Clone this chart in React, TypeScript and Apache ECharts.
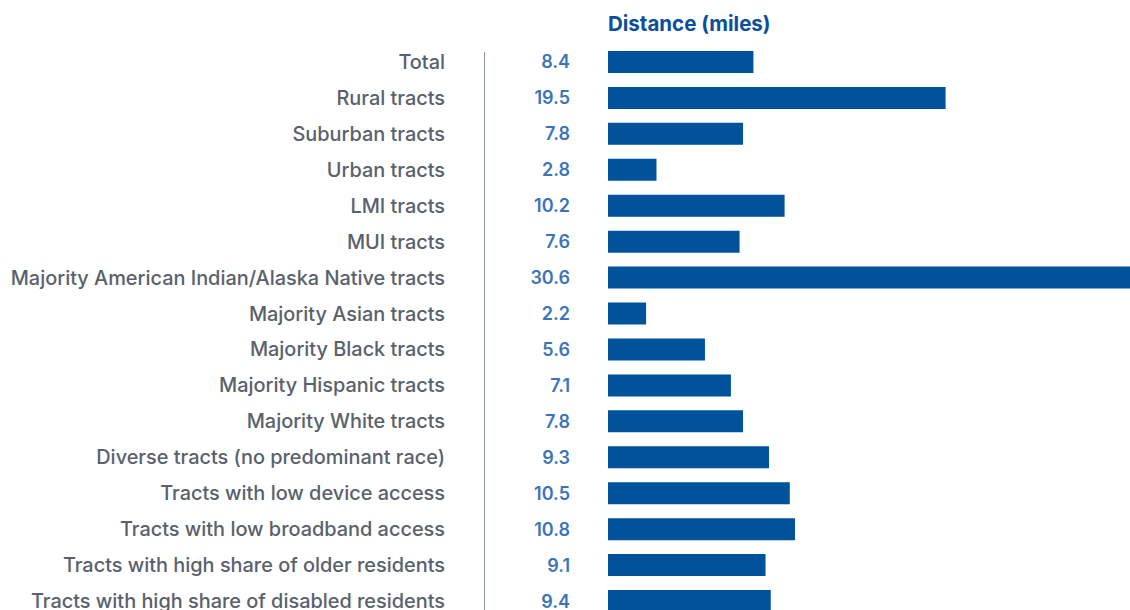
import React, { useEffect, useRef } from "react";
import * as echarts from "echarts";

const categories = [
  "Total",
  "Rural tracts",
  "Suburban tracts",
  "Urban tracts",
  "LMI tracts",
  "MUI tracts",
  "Majority American Indian/Alaska Native tracts",
  "Majority Asian tracts",
  "Majority Black tracts",
  "Majority Hispanic tracts",
  "Majority White tracts",
  "Diverse tracts (no predominant race)",
  "Tracts with low device access",
  "Tracts with low broadband access",
  "Tracts with high share of older residents",
  "Tracts with high share of disabled residents",
];
const distances = [8.4, 19.5, 7.8, 2.8, 10.2, 7.6, 30.6, 2.2, 5.6, 7.1, 7.8, 9.3, 10.5, 10.8, 9.1, 9.4];
const titleText = "Distance (miles)";

export default function App() {
  const ref = useRef<HTMLDivElement>(null);
  useEffect(() => {
    if (!ref.current) return;
    const chart = echarts.init(ref.current, null, { renderer: "svg" });
    chart.setOption({
      animation: false,
      textStyle: { fontFamily: "Inter" },
      title: {
        text: titleText,
        left: 603,
        top: 8,
        textStyle: { fontFamily: "Inter", fontSize: 20.5, fontWeight: "bold", color: "#0b4f9c" },
      },
      graphic: [
        {
          type: "line",
          shape: { x1: 484.5, y1: 52, x2: 484.5, y2: 640 },
          style: { stroke: "#8a96a8", lineWidth: 1 },
        },
      ],
      grid: { left: 608, right: 8, top: 44, height: 575 },
      xAxis: { type: "value", min: 0, max: 32, show: false },
      yAxis: {
        type: "category",
        data: categories,
        inverse: true,
        axisLine: { show: false },
        axisTick: { show: false },
        axisLabel: {
          margin: 163,
          fontFamily: "Inter",
          fontSize: 19.9,
          fontWeight: 500,
          color: "#58616c",
        },
      },
      series: [
        {
          type: "bar",
          data: distances,
          barWidth: 22,
          itemStyle: { color: "#00529b" },
          label: {
            show: true,
            position: "left",
            distance: 38,
            fontFamily: "Inter",
            fontSize: 18,
            fontWeight: 600,
            color: "#3b75b6",
            formatter: (p: any) => String(p.value),
          },
        },
      ],
    });
    return () => chart.dispose();
  }, []);
  return (
    <div style={{ position: "fixed", left: 0, top: 0, width: 1130, height: 610, overflow: "hidden", background: "#fff" }}>
      <div ref={ref} style={{ width: 1170, height: 640 }} />
    </div>
  );
}
